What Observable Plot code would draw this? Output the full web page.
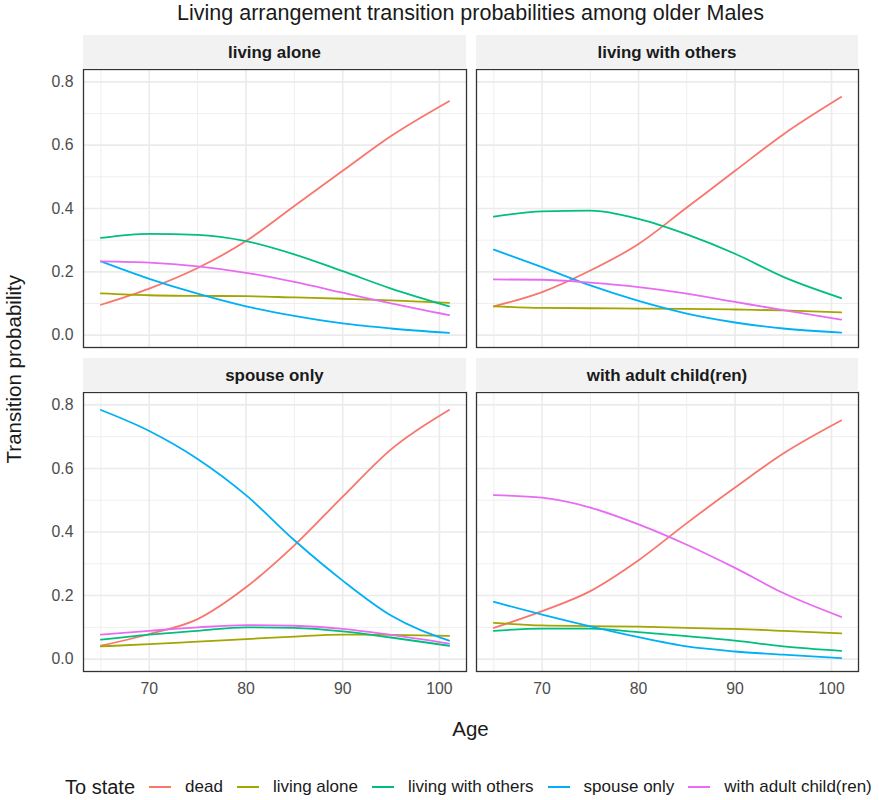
<!DOCTYPE html>
<html>
<head>
<meta charset="utf-8">
<script src="https://cdn.jsdelivr.net/npm/d3@7"></script>
<script src="https://cdn.jsdelivr.net/npm/@observablehq/plot@0.6"></script>
<style>
  body { margin: 0; background: #fff; font-family: "Liberation Sans", Arial, sans-serif; }
  #wrap { position: relative; width: 879px; height: 800px; overflow: hidden; background: #fff; }
  .abs { position: absolute; }
  .txt { position: absolute; line-height: 1; white-space: nowrap; color: #1a1a1a; }
  .strip { position: absolute; background: #f2f2f2; height: 34px; }
  .strip span { position: absolute; left: 0; right: 0; top: 10px; text-align: center; font-weight: bold; font-size: 16.9px; line-height: 1; color: #1a1a1a; white-space: nowrap; }
  #legend { position: absolute; left: 65px; top: 775px; height: 24px; display: flex; align-items: center; white-space: nowrap; color: #1a1a1a; }
  #legend .ttl { font-size: 20px; margin-right: 14px; line-height: 24px; }
  #legend .item { font-size: 17px; line-height: 24px; margin-right: 14px; }
  #legend svg { margin-right: 14px; display: block; }
</style>
</head>
<body>
<div id="wrap"></div>
<script>
// ---------- data ----------
const ages = [65, 70, 75, 80, 85, 90, 95, 101];
const states = ["dead", "living alone", "living with others", "spouse only", "with adult child(ren)"];
const colors = ["#F8766D", "#A3A500", "#00BF7D", "#00B0F6", "#E76BF3"];
const panelNames = ["living alone", "living with others", "spouse only", "with adult child(ren)"];
const xTicks = [70, 80, 90, 100];
const xMinor = [65, 75, 85, 95];
const yTicks = [0, 0.2, 0.4, 0.6, 0.8];
const yMinor = [0.1, 0.3, 0.5, 0.7];

// From state: living alone
const alone_dead   = [0.096, 0.147, 0.212, 0.297, 0.408, 0.519, 0.629, 0.739];
const alone_alone  = [0.132, 0.126, 0.124, 0.123, 0.119, 0.115, 0.110, 0.102];
const alone_others = [0.307, 0.320, 0.317, 0.297, 0.255, 0.202, 0.147, 0.091];
const alone_spouse = [0.233, 0.178, 0.131, 0.091, 0.061, 0.037, 0.021, 0.007];
const alone_child  = [0.233, 0.229, 0.217, 0.197, 0.168, 0.134, 0.100, 0.063];

// From state: living with others
const others_dead   = [0.091, 0.136, 0.204, 0.288, 0.403, 0.519, 0.634, 0.752];
const others_alone  = [0.091, 0.086, 0.085, 0.084, 0.083, 0.081, 0.078, 0.072];
const others_others = [0.374, 0.391, 0.393, 0.367, 0.318, 0.257, 0.184, 0.117];
const others_spouse = [0.270, 0.215, 0.157, 0.108, 0.068, 0.040, 0.021, 0.008];
const others_child  = [0.176, 0.175, 0.166, 0.152, 0.131, 0.105, 0.079, 0.049];

// From state: spouse only
const spouse_dead   = [0.042, 0.079, 0.126, 0.226, 0.358, 0.511, 0.660, 0.784];
const spouse_alone  = [0.040, 0.047, 0.055, 0.063, 0.071, 0.077, 0.076, 0.073];
const spouse_others = [0.061, 0.077, 0.089, 0.100, 0.098, 0.087, 0.068, 0.042];
const spouse_spouse = [0.784, 0.718, 0.630, 0.516, 0.374, 0.247, 0.137, 0.058];
const spouse_child  = [0.077, 0.089, 0.100, 0.107, 0.105, 0.095, 0.076, 0.049];

// From state: with adult child(ren)
const child_dead   = [0.098, 0.151, 0.214, 0.311, 0.428, 0.540, 0.647, 0.751];
const child_alone  = [0.114, 0.106, 0.104, 0.102, 0.098, 0.095, 0.089, 0.081];
const child_others = [0.089, 0.096, 0.096, 0.085, 0.072, 0.058, 0.040, 0.026];
const child_spouse = [0.180, 0.140, 0.103, 0.069, 0.040, 0.024, 0.014, 0.003];
const child_child  = [0.516, 0.508, 0.477, 0.424, 0.360, 0.287, 0.208, 0.133];

const panelSeries = [
  [alone_dead, alone_alone, alone_others, alone_spouse, alone_child],
  [others_dead, others_alone, others_others, others_spouse, others_child],
  [spouse_dead, spouse_alone, spouse_others, spouse_spouse, spouse_child],
  [child_dead, child_alone, child_others, child_spouse, child_child]
];

// ---------- layout ----------
const wrap = document.getElementById("wrap");
const colX = [83, 476];       // panel left edges
const colW = [383, 382];      // panel widths
const rowY = [69, 392];       // panel top edges
const rowH = [278, 279];      // panel heights
const stripY = [35, 358];

function makePanel(idx) {
  const col = idx % 2, row = Math.floor(idx / 2);
  const left = col === 0, bottom = row === 1;
  const rows = [];
  panelSeries[idx].forEach((vals, i) => vals.forEach((v, j) => rows.push({age: ages[j], value: v, state: states[i]})));
  const mL = left ? colX[0] : 1, mB = bottom ? 30 : 1;
  const svg = Plot.plot({
    width: mL + colW[col] + 1,
    height: 1 + rowH[row] + mB,
    marginLeft: mL, marginRight: 1, marginTop: 1, marginBottom: mB,
    style: {fontFamily: "'Liberation Sans', Arial, sans-serif", fontSize: "15.8px", color: "#4d4d4d", background: "transparent", overflow: "visible"},
    x: {domain: [63.2, 102.8], ticks: xTicks, tickSize: 0, tickPadding: 11, label: null, axis: bottom ? "bottom" : null},
    y: {domain: [-0.039, 0.839], ticks: yTicks, tickSize: 0, tickPadding: 10, tickFormat: d => d.toFixed(1), label: null, axis: left ? "left" : null},
    color: {domain: states, range: colors},
    marks: [
      Plot.ruleY(yMinor, {stroke: "#ebebeb", strokeWidth: 0.8}),
      Plot.ruleX(xMinor, {stroke: "#ebebeb", strokeWidth: 0.8}),
      Plot.ruleY(yTicks, {stroke: "#ebebeb", strokeWidth: 1.6}),
      Plot.ruleX(xTicks, {stroke: "#ebebeb", strokeWidth: 1.6}),
      Plot.line(rows, {x: "age", y: "value", z: "state", stroke: "state", strokeWidth: 1.8, curve: "monotone-x"}),
      Plot.frame({stroke: "#333333", strokeWidth: 1.3})
    ]
  });
  const holder = document.createElement("div");
  holder.className = "abs";
  holder.style.left = (left ? 0 : colX[col] - 1) + "px";
  holder.style.top = (rowY[row] - 1) + "px";
  holder.appendChild(svg);
  wrap.appendChild(holder);

  const strip = document.createElement("div");
  strip.className = "strip";
  strip.style.left = colX[col] + "px";
  strip.style.width = colW[col] + "px";
  strip.style.top = stripY[row] + "px";
  const s = document.createElement("span");
  s.textContent = panelNames[idx];
  strip.appendChild(s);
  wrap.appendChild(strip);
}
for (let i = 0; i < 4; i++) makePanel(i);

// titles
function addText(text, css) {
  const d = document.createElement("div");
  d.className = "txt";
  d.textContent = text;
  Object.assign(d.style, css);
  wrap.appendChild(d);
  return d;
}
addText("Living arrangement transition probabilities among older Males",
  {left: "83px", width: "775px", textAlign: "center", top: "3px", fontSize: "21.5px"});
addText("Age", {left: "83px", width: "775px", textAlign: "center", top: "719px", fontSize: "20.5px"});
addText("Transition probability", {left: (14.6 - 301.5) + "px", width: "603px", height: "20.5px", textAlign: "center",
  top: (369.5 - 10.25) + "px", fontSize: "20.5px", transform: "rotate(-90deg)"});

// legend
const legend = document.createElement("div");
legend.id = "legend";
const lt = document.createElement("span");
lt.className = "ttl";
lt.textContent = "To state";
legend.appendChild(lt);
states.forEach((st, i) => {
  const sw = document.createElementNS("http://www.w3.org/2000/svg", "svg");
  sw.setAttribute("width", 22); sw.setAttribute("height", 24);
  const ln = document.createElementNS("http://www.w3.org/2000/svg", "line");
  ln.setAttribute("x1", 0); ln.setAttribute("x2", 22); ln.setAttribute("y1", 12); ln.setAttribute("y2", 12);
  ln.setAttribute("stroke", colors[i]); ln.setAttribute("stroke-width", 2);
  sw.appendChild(ln);
  legend.appendChild(sw);
  const t = document.createElement("span");
  t.className = "item";
  t.textContent = st;
  if (i === states.length - 1) t.style.marginRight = "0";
  legend.appendChild(t);
});
wrap.appendChild(legend);
</script>
</body>
</html>
